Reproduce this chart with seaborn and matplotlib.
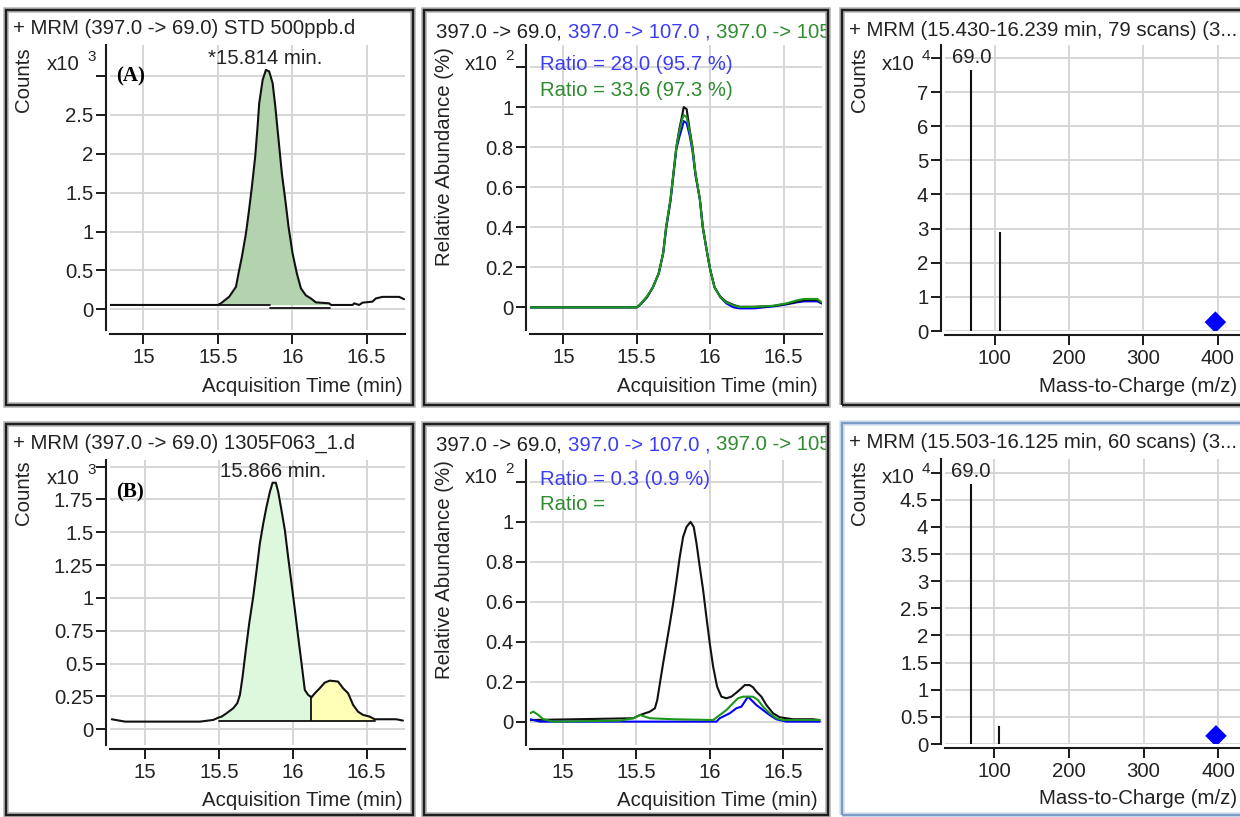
import matplotlib
matplotlib.use("Agg")
import matplotlib.pyplot as plt
from matplotlib.patches import Rectangle
from matplotlib.transforms import Bbox, TransformedBbox
import seaborn as sns

W, H = 1240, 817

# ---------------- data ----------------
# (A) STD 500ppb, MRM 397.0 -> 69.0, counts x10^3
std_t = [14.776, 15.499, 15.521, 15.577, 15.622, 15.639, 15.662, 15.689, 15.707, 15.729,
         15.751, 15.767, 15.778, 15.801, 15.823, 15.845, 15.868, 15.886, 15.908, 15.930,
         15.953, 15.975, 16.002, 16.031, 16.058, 16.091, 16.125, 16.158, 16.248, 16.260,
         16.405, 16.416, 16.449, 16.472, 16.539, 16.561, 16.606, 16.718, 16.751]
std_counts = [0.056, 0.056, 0.077, 0.163, 0.29, 0.463, 0.678, 0.978, 1.235, 1.578,
              1.964, 2.35, 2.65, 2.95, 3.08, 3.06, 2.91, 2.61, 2.18, 1.75,
              1.41, 1.06, 0.72, 0.46, 0.27, 0.18, 0.14, 0.09, 0.077, 0.056,
              0.056, 0.077, 0.056, 0.086, 0.099, 0.14, 0.16, 0.16, 0.13]
std_peak = (15.499, 16.248)
std_base = 0.06
# short dip of the raw trace under the integrated peak
std_dip_t = [15.85, 16.25]
std_dip = 0.013

# (A) relative abundance of the three transitions, x10^2 %
rel_t = [14.76, 15.50, 15.52, 15.57, 15.61, 15.65, 15.68, 15.70, 15.73, 15.75,
         15.77, 15.79, 15.81, 15.82, 15.84, 15.86, 15.88, 15.90, 15.93, 15.95,
         15.98, 16.00, 16.03, 16.07, 16.11, 16.16, 16.20, 16.30, 16.43, 16.52,
         16.59, 16.64, 16.73, 16.76]
rel_69 = [0.0, 0.0, 0.012, 0.053, 0.10, 0.17, 0.27, 0.40, 0.54, 0.67,
          0.80, 0.89, 0.96, 1.0, 0.99, 0.89, 0.80, 0.67, 0.54, 0.40,
          0.27, 0.19, 0.10, 0.053, 0.028, 0.012, 0.003, 0.003, 0.007, 0.017,
          0.028, 0.037, 0.037, 0.02]
rel_107 = [0.0, 0.0, 0.01, 0.05, 0.10, 0.17, 0.27, 0.39, 0.53, 0.66,
           0.79, 0.85, 0.90, 0.93, 0.92, 0.86, 0.78, 0.66, 0.54, 0.40,
           0.27, 0.19, 0.10, 0.05, 0.02, 0.0, -0.005, -0.005, 0.005, 0.015,
           0.025, 0.03, 0.03, 0.02]
rel_3rd = [0.0, 0.0, 0.012, 0.055, 0.10, 0.17, 0.27, 0.40, 0.54, 0.67,
           0.80, 0.88, 0.94, 0.96, 0.95, 0.88, 0.79, 0.67, 0.54, 0.40,
           0.27, 0.19, 0.10, 0.05, 0.025, 0.01, 0.002, 0.002, 0.008, 0.02,
           0.035, 0.042, 0.042, 0.025]

# (A) product ion spectrum, counts x10^4
std_mz = [69, 107]
std_ion = [7.65, 2.91]
std_prec = 0.26

# (B) sample 1305F063_1, MRM 397.0 -> 69.0, counts x10^3
smp_t = [14.775, 14.865, 15.372, 15.462, 15.500, 15.518, 15.552, 15.597, 15.624, 15.642,
         15.660, 15.682, 15.705, 15.732, 15.755, 15.777, 15.800, 15.822, 15.845, 15.863,
         15.885, 15.901, 15.923, 15.946, 15.968, 15.991, 16.014, 16.036, 16.059, 16.081,
         16.104, 16.126, 16.149, 16.182, 16.216, 16.250, 16.306, 16.340, 16.374, 16.408,
         16.441, 16.475, 16.520, 16.554, 16.700, 16.745]
smp_counts = [0.076, 0.058, 0.058, 0.071, 0.09, 0.096, 0.122, 0.16, 0.198, 0.261,
              0.40, 0.604, 0.807, 1.009, 1.212, 1.415, 1.567, 1.694, 1.808, 1.877,
              1.877, 1.808, 1.669, 1.517, 1.314, 1.111, 0.908, 0.705, 0.502, 0.299,
              0.261, 0.243, 0.274, 0.312, 0.355, 0.37, 0.363, 0.312, 0.274, 0.185,
              0.134, 0.109, 0.096, 0.076, 0.076, 0.066]
smp_main = (15.500, 16.126)
smp_second = (16.126, 16.554)
smp_base = 0.063

# (B) relative abundance, x10^2 %
smp69_t = [14.778, 15.48, 15.525, 15.593, 15.627, 15.643, 15.661, 15.683, 15.706, 15.729,
           15.751, 15.774, 15.796, 15.819, 15.842, 15.869, 15.891, 15.91, 15.932, 15.955,
           15.977, 16.0, 16.023, 16.05, 16.079, 16.113, 16.147, 16.181, 16.215, 16.238,
           16.271, 16.294, 16.317, 16.351, 16.385, 16.43, 16.475, 16.52, 16.566, 16.701,
           16.747]
smp69_rel = [0.008, 0.017, 0.033, 0.05, 0.067, 0.108, 0.192, 0.292, 0.392, 0.492,
             0.592, 0.708, 0.825, 0.925, 0.975, 1.0, 0.975, 0.892, 0.775, 0.658,
             0.525, 0.392, 0.275, 0.175, 0.125, 0.117, 0.125, 0.145, 0.167, 0.183,
             0.183, 0.172, 0.15, 0.125, 0.083, 0.042, 0.022, 0.017, 0.012, 0.012,
             0.008]
smp107_t = [14.778, 14.846, 16.045, 16.068, 16.136, 16.181, 16.215, 16.26, 16.283, 16.317,
            16.362, 16.407, 16.452, 16.52, 16.747]
smp107_rel = [0.012, 0.0, 0.0, 0.017, 0.042, 0.067, 0.075, 0.125, 0.108, 0.083,
              0.058, 0.033, 0.012, 0.0, 0.0]
smp3rd_t = [14.778, 14.801, 14.835, 14.869, 14.937, 15.389, 15.48, 15.525, 15.593, 15.751,
            16.023, 16.068, 16.113, 16.158, 16.192, 16.226, 16.294, 16.328, 16.362, 16.407,
            16.452, 16.498, 16.747]
smp3rd_rel = [0.042, 0.05, 0.033, 0.012, 0.0, 0.005, 0.017, 0.033, 0.017, 0.012,
              0.008, 0.033, 0.058, 0.092, 0.117, 0.125, 0.125, 0.108, 0.075, 0.042,
              0.017, 0.008, 0.008]

# (B) product ion spectrum, counts x10^4
smp_mz = [69, 107]
smp_ion = [4.79, 0.34]
smp_prec = 0.15
prec_mz = 397

time_ticks = [15, 15.5, 16, 16.5]
time_labels = ["15", "15.5", "16", "16.5"]
mz_ticks = [100, 200, 300, 400]
mz_labels = ["100", "200", "300", "400"]

# ---------------- styling ----------------
sns.set_theme(style="white")
plt.rcParams['font.family'] = ['Liberation Sans', 'DejaVu Sans']
FS = 14.7
TXT = '#222222'
BLUE_T = '#3c3cf5'
GREEN_T = '#2e8b2e'

fig = plt.figure(figsize=(W / 100, H / 100), dpi=100)
fig.patch.set_facecolor('white')


def px_axes(l, t, r, b):
    return fig.add_axes([l / W, 1 - b / H, (r - l) / W, (b - t) / H])


def ftext(x, y, s, **kw):
    kw.setdefault('color', TXT)
    kw.setdefault('fontsize', FS)
    return fig.text(x / W, 1 - y / H, s, **kw)


def frame(l, t, r, b, dark='#1e1e1e', shade='#b4b4b4'):
    fig.add_artist(Rectangle((l / W, 1 - b / H), (r - l) / W, (b - t) / H,
                             transform=fig.transFigure, fill=False, ec=shade, lw=4.0))
    fig.add_artist(Rectangle((l / W, 1 - b / H), (r - l) / W, (b - t) / H,
                             transform=fig.transFigure, fill=False, ec=dark, lw=1.7))


def style(ax, xlim, ylim, xticks, xlabels, yticks, ylabels):
    ax.set_xlim(xlim)
    ax.set_ylim(ylim)
    ax.set_xticks(xticks, xlabels)
    ax.set_yticks(yticks, ylabels)
    ax.grid(True, color='#d6d6d6', lw=1.4)
    ax.set_axisbelow(True)
    sns.despine(ax=ax, offset=3)
    for sp in ['left', 'bottom']:
        ax.spines[sp].set_color('#1a1a1a')
        ax.spines[sp].set_linewidth(1.5)
    ax.tick_params(left=True, bottom=True, length=7, width=1.4, pad=2,
                   color='#1a1a1a', labelsize=FS, labelcolor=TXT, direction='out')
    ax.tick_params(axis='x', pad=3)
    ax.set_xlabel('')
    ax.set_ylabel('')


def chain(x, y, parts, clip=None):
    r = fig.canvas.get_renderer()
    for s, c in parts:
        t = ftext(x, y, s, color=c, ha='left', va='center')
        if clip is not None:
            t.set_clip_box(TransformedBbox(Bbox.from_extents(0, 0, clip / W, 1), fig.transFigure))
            t.set_clip_on(True)
        x = t.get_window_extent(renderer=r).x1


def multiplier(x, y, exp):
    ftext(x, y, "x10", ha='left', va='center')
    ftext(x + 40, y - 8, exp, ha='left', va='center', fontsize=11)


# ---------------- panel frames ----------------
for (l, t, r, b) in [(6, 10, 413, 405), (424, 10, 828, 405), (842, 10, 1252, 405),
                     (6, 424, 413, 815), (424, 424, 828, 815)]:
    frame(l, t, r, b)
frame(842, 423, 1252, 815, dark='#7b9cc4', shade='#d6e2f0')

# ---------------- (A) chromatogram ----------------
ax = px_axes(110, 45, 405, 330)
pk_t = [t for t in std_t if std_peak[0] <= t <= std_peak[1]]
pk_v = [v for t, v in zip(std_t, std_counts) if std_peak[0] <= t <= std_peak[1]]
ax.fill_between(pk_t, std_base, pk_v, color='#b3d2ae', lw=0)
sns.lineplot(x=std_t, y=std_counts, ax=ax, color='#111111', lw=1.5, estimator=None, sort=False)
ax.plot([std_peak[0], std_dip_t[0]], [std_base, std_base], color='#111111', lw=1.3)
ax.plot(std_dip_t, [std_dip, std_dip], color='#111111', lw=1.3)
style(ax, (14.776, 16.757), (-0.266, 3.40), time_ticks, time_labels,
      [0, 0.5, 1, 1.5, 2, 2.5, 3], ["0", "0.5", "1", "1.5", "2", "2.5", ""])
ftext(13, 29, "+ MRM (397.0 -> 69.0) STD 500ppb.d", ha='left', va='center')
ftext(24, 47, "Counts", rotation=90, ha='center', va='top')
multiplier(47, 65, "3")
ftext(116, 76, "(A)", ha='left', va='center', family='Liberation Serif', weight='bold',
      fontsize=15, color='black')
ftext(265, 59, "*15.814 min.", ha='center', va='center')
ftext(403, 386, "Acquisition Time (min)", ha='right', va='center')

# ---------------- (A) qualifier ratios ----------------
ax = px_axes(530, 45, 822, 330)
sns.lineplot(x=rel_t, y=rel_107, ax=ax, color='#0000ff', lw=1.5, estimator=None, sort=False)
sns.lineplot(x=rel_t, y=rel_69, ax=ax, color='#111111', lw=1.5, estimator=None, sort=False)
sns.lineplot(x=rel_t, y=rel_3rd, ax=ax, color='#1c961c', lw=1.5, estimator=None, sort=False)
style(ax, (14.773, 16.762), (-0.113, 1.31), time_ticks, time_labels,
      [0, 0.2, 0.4, 0.6, 0.8, 1.0, 1.2], ["0", "0.2", "0.4", "0.6", "0.8", "1", ""])
chain(436, 32, [("397.0 -> 69.0, ", TXT), ("397.0 -> 107.0 , ", BLUE_T),
                ("397.0 -> 105.0", GREEN_T)], clip=826)
ftext(444, 47, "Relative Abundance (%)", rotation=90, ha='center', va='top')
multiplier(465, 64, "2")
ftext(540, 64, "Ratio = 28.0 (95.7 %)", ha='left', va='center', color=BLUE_T)
ftext(540, 90, "Ratio = 33.6 (97.3 %)", ha='left', va='center', color=GREEN_T)
ftext(818, 386, "Acquisition Time (min)", ha='right', va='center')

# ---------------- (A) spectrum ----------------
ax = px_axes(945, 45, 1260, 331)
ax.vlines(std_mz, 0, std_ion, color='#111111', lw=1.5)
sns.scatterplot(x=[prec_mz], y=[std_prec], ax=ax, marker='D', s=120, color='#0000ff', edgecolor='none')
style(ax, (33.4, 457), (0, 8.38), mz_ticks, mz_labels,
      list(range(9)), ["0", "1", "2", "3", "4", "5", "6", "7", ""])
ax.annotate("69.0", (std_mz[0], std_ion[0]), xytext=(0, 2), textcoords='offset points',
            ha='center', va='bottom', fontsize=FS, color=TXT)
ftext(849, 30, "+ MRM (15.430-16.239 min, 79 scans) (3...", ha='left', va='center')
ftext(859, 47, "Counts", rotation=90, ha='center', va='top')
multiplier(882, 64, "4")
ftext(1237, 386, "Mass-to-Charge (m/z)", ha='right', va='center')

# ---------------- (B) chromatogram ----------------
ax = px_axes(110, 460, 405, 745)
m1 = [(t, v) for t, v in zip(smp_t, smp_counts) if smp_main[0] <= t <= smp_main[1]]
m2 = [(t, v) for t, v in zip(smp_t, smp_counts) if smp_second[0] <= t <= smp_second[1]]
ax.fill_between([p[0] for p in m1], smp_base, [p[1] for p in m1], color='#def8de', lw=0)
ax.fill_between([p[0] for p in m2], smp_base, [p[1] for p in m2], color='#ffffb8', lw=0)
sns.lineplot(x=smp_t, y=smp_counts, ax=ax, color='#111111', lw=1.5, estimator=None, sort=False)
ax.plot([smp_main[0], smp_second[1]], [smp_base, smp_base], color='#111111', lw=1.3)
ax.vlines([smp_main[1]], smp_base, [smp_counts[smp_t.index(smp_main[1])]], color='#111111', lw=1.3)
style(ax, (14.763, 16.759), (-0.12, 2.05), time_ticks, time_labels,
      [0, 0.25, 0.5, 0.75, 1, 1.25, 1.5, 1.75, 2],
      ["0", "0.25", "0.5", "0.75", "1", "1.25", "1.5", "1.75", ""])
ftext(13, 443, "+ MRM (397.0 -> 69.0) 1305F063_1.d", ha='left', va='center')
ftext(24, 460, "Counts", rotation=90, ha='center', va='top')
multiplier(47, 478, "3")
ftext(116, 492, "(B)", ha='left', va='center', family='Liberation Serif', weight='bold',
      fontsize=15, color='black')
ftext(273, 472, "15.866 min.", ha='center', va='center')
ftext(403, 800, "Acquisition Time (min)", ha='right', va='center')

# ---------------- (B) qualifier ratios ----------------
ax = px_axes(530, 460, 822, 745)
sns.lineplot(x=smp69_t, y=smp69_rel, ax=ax, color='#111111', lw=1.5, estimator=None, sort=False)
sns.lineplot(x=smp107_t, y=smp107_rel, ax=ax, color='#0000ff', lw=1.5, estimator=None, sort=False)
sns.lineplot(x=smp3rd_t, y=smp3rd_rel, ax=ax, color='#1c961c', lw=1.5, estimator=None, sort=False)
style(ax, (14.778, 16.763), (-0.117, 1.31), time_ticks, time_labels,
      [0, 0.2, 0.4, 0.6, 0.8, 1.0, 1.2], ["0", "0.2", "0.4", "0.6", "0.8", "1", ""])
chain(436, 445, [("397.0 -> 69.0, ", TXT), ("397.0 -> 107.0 , ", BLUE_T),
                 ("397.0 -> 105.0", GREEN_T)], clip=826)
ftext(444, 460, "Relative Abundance (%)", rotation=90, ha='center', va='top')
multiplier(465, 477, "2")
ftext(540, 479, "Ratio = 0.3 (0.9 %)", ha='left', va='center', color=BLUE_T)
ftext(540, 505, "Ratio =", ha='left', va='center', color=GREEN_T)
ftext(818, 800, "Acquisition Time (min)", ha='right', va='center')

# ---------------- (B) spectrum ----------------
ax = px_axes(945, 459, 1260, 744)
ax.vlines(smp_mz, 0, smp_ion, color='#111111', lw=1.5)
sns.scatterplot(x=[prec_mz], y=[smp_prec], ax=ax, marker='D', s=120, color='#0000ff', edgecolor='none')
style(ax, (34, 456), (0, 5.25), mz_ticks, mz_labels,
      [0, 0.5, 1, 1.5, 2, 2.5, 3, 3.5, 4, 4.5, 5],
      ["0", "0.5", "1", "1.5", "2", "2.5", "3", "3.5", "4", "4.5", ""])
ax.annotate("69.0", (smp_mz[0], smp_ion[0]), xytext=(0, 2), textcoords='offset points',
            ha='center', va='bottom', fontsize=FS, color=TXT)
ftext(849, 443, "+ MRM (15.503-16.125 min, 60 scans) (3...", ha='left', va='center')
ftext(859, 460, "Counts", rotation=90, ha='center', va='top')
multiplier(882, 477, "4")
ftext(1237, 798, "Mass-to-Charge (m/z)", ha='right', va='center')

fig.savefig("out.png", dpi=100)
